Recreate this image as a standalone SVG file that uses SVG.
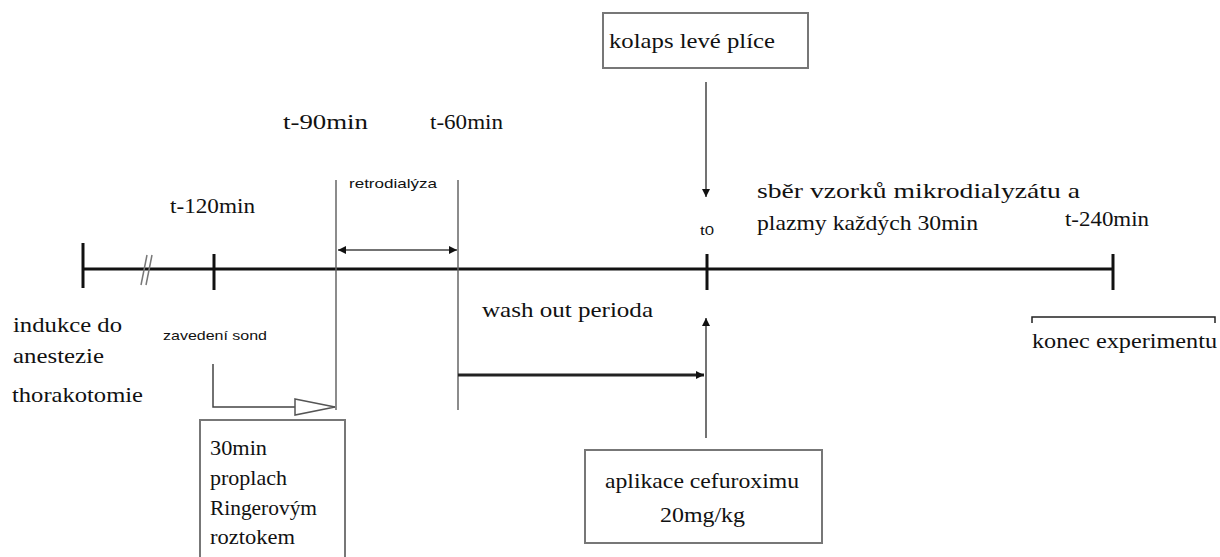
<svg xmlns="http://www.w3.org/2000/svg" width="1220" height="557" viewBox="0 0 1220 557">
<style>
text{font-family:"Liberation Serif","Times New Roman",serif;fill:#111}
.big{font-size:21px}
.sm{font-size:13px;font-family:"Liberation Sans Narrow","Liberation Sans",sans-serif}
.box{fill:#fff;stroke:#777;stroke-width:2}
.axis{stroke:#111;stroke-width:3;fill:none}
.tick{stroke:#111;stroke-width:3}
.vline{stroke:#666;stroke-width:1.5}
.conn{stroke:#444;stroke-width:1.5;fill:none}
</style>
<defs>
<marker id="ah" viewBox="0 0 10 10" refX="10" refY="5" markerWidth="8" markerHeight="8" markerUnits="userSpaceOnUse" orient="auto-start-reverse"><path d="M0,0L10,5L0,10z" fill="#111"/></marker>
<marker id="hollow" viewBox="0 0 42 18" refX="41" refY="9" markerWidth="42" markerHeight="18" markerUnits="userSpaceOnUse" orient="auto"><path d="M1,1L41,9L1,17z" fill="#fff" stroke="#555" stroke-width="1.5"/></marker>
</defs>
<g id="timeline">
<line class="axis" x1="83" y1="269" x2="1113" y2="269"/>
<line class="tick" x1="83" y1="243" x2="83" y2="288"/>
<line class="tick" x1="214" y1="254" x2="214" y2="290"/>
<line class="tick" x1="707" y1="254" x2="707" y2="290"/>
<line class="tick" x1="1113" y1="254" x2="1113" y2="290"/>
<line x1="141" y1="285" x2="147" y2="255" stroke="#777" stroke-width="1.5"/>
<line x1="146" y1="285" x2="152" y2="255" stroke="#777" stroke-width="1.5"/>
<line class="vline" x1="336" y1="180" x2="336" y2="410"/>
<line class="vline" x1="458" y1="180" x2="458" y2="410"/>
</g>
<g id="labels">
<text class="big" x="170" y="213" textLength="85" lengthAdjust="spacingAndGlyphs">t-120min</text>
<text class="big" x="283" y="129" textLength="85" lengthAdjust="spacingAndGlyphs">t-90min</text>
<text class="big" x="430" y="129" textLength="73" lengthAdjust="spacingAndGlyphs">t-60min</text>
<text class="big" x="1065" y="226" textLength="84" lengthAdjust="spacingAndGlyphs">t-240min</text>
<text x="700" y="235" textLength="14" lengthAdjust="spacingAndGlyphs" style="font-size:12px;font-family:'Liberation Sans Narrow','Liberation Sans',sans-serif">t0</text>
<text class="sm" x="349" y="188" textLength="88" lengthAdjust="spacingAndGlyphs">retrodialýza</text>
<text class="sm" x="163" y="340" textLength="104" lengthAdjust="spacingAndGlyphs">zavedení sond</text>
<text class="big" x="757" y="198" textLength="323" lengthAdjust="spacingAndGlyphs">sběr vzorků mikrodialyzátu a</text>
<text class="big" x="757" y="230" textLength="221" lengthAdjust="spacingAndGlyphs">plazmy každých 30min</text>
<text class="big" x="13" y="332" textLength="109" lengthAdjust="spacingAndGlyphs">indukce do</text>
<text class="big" x="13" y="363" textLength="91" lengthAdjust="spacingAndGlyphs">anestezie</text>
<text class="big" x="12" y="402" textLength="131" lengthAdjust="spacingAndGlyphs">thorakotomie</text>
<text class="big" x="482" y="317" textLength="171" lengthAdjust="spacingAndGlyphs">wash out perioda</text>
<text class="big" x="1032" y="348" textLength="185" lengthAdjust="spacingAndGlyphs">konec experimentu</text>
</g>
<g id="node-kolaps">
<rect class="box" x="603" y="13" width="205" height="55"/>
<text class="big" x="609" y="48" textLength="166" lengthAdjust="spacingAndGlyphs">kolaps levé plíce</text>
</g>
<g id="node-aplikace">
<rect class="box" x="585" y="450" width="237" height="93"/>
<text class="big" x="605" y="488" textLength="194" lengthAdjust="spacingAndGlyphs">aplikace cefuroximu</text>
<text class="big" x="660" y="522" textLength="85" lengthAdjust="spacingAndGlyphs">20mg/kg</text>
</g>
<g id="node-proplach">
<rect class="box" x="200" y="420" width="145" height="146"/>
<text class="big" x="210" y="455" textLength="57" lengthAdjust="spacingAndGlyphs">30min</text>
<text class="big" x="210" y="485" textLength="77" lengthAdjust="spacingAndGlyphs">proplach</text>
<text class="big" x="210" y="515" textLength="107" lengthAdjust="spacingAndGlyphs">Ringerovým</text>
<text class="big" x="210" y="544" textLength="85" lengthAdjust="spacingAndGlyphs">roztokem</text>
</g>
<g id="connectors">
<line class="conn" x1="706" y1="82" x2="706" y2="197" marker-end="url(#ah)"/>
<line class="conn" x1="706" y1="438" x2="706" y2="318" marker-end="url(#ah)"/>
<line x1="458" y1="375" x2="704" y2="375" stroke="#222" stroke-width="3" marker-end="url(#ah)"/>
<line class="conn" x1="338" y1="250" x2="457" y2="250" stroke="#222" marker-start="url(#ah)" marker-end="url(#ah)"/>
<polyline class="conn" points="213,364 213,407 335,407" marker-end="url(#hollow)"/>
<path d="M1032,323V317H1215V323" fill="none" stroke="#222" stroke-width="1.5"/>
</g>
</svg>
